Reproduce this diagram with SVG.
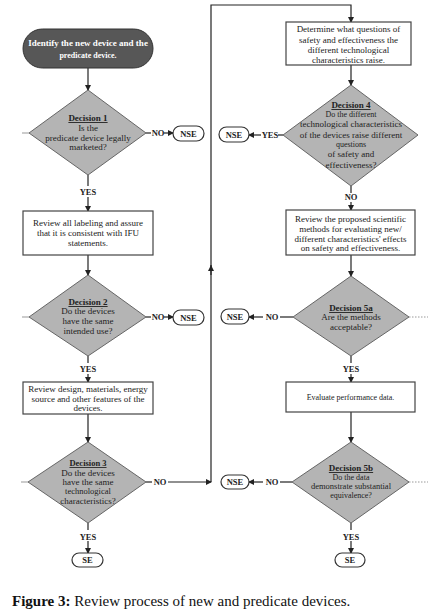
<svg xmlns="http://www.w3.org/2000/svg" width="433" height="613" viewBox="0 0 433 613">
<defs>
<marker id="ah" markerWidth="6" markerHeight="6" refX="5" refY="3" orient="auto" markerUnits="userSpaceOnUse">
<path d="M0,0 L6,3 L0,6 Z" fill="#222"/>
</marker>
<style>
.t{font-family:"Liberation Serif","Times New Roman",serif;font-size:9px;fill:#222;text-anchor:middle}
.b{font-weight:bold}
.u{text-decoration:underline;font-weight:bold}
.box{fill:#fff;stroke:#444;stroke-width:1.2}
.dia{fill:#b4b4b4;stroke:#666;stroke-width:1}
.pill{fill:#fff;stroke:#333;stroke-width:1.2}
.ln{stroke:#222;stroke-width:1.2;fill:none}
.stub{stroke:#999;stroke-width:1;fill:none}
.lab{font-family:"Liberation Serif","Times New Roman",serif;font-size:8.5px;font-weight:bold;fill:#222;text-anchor:middle}
</style>
</defs>
<rect width="433" height="613" fill="#fff"/>

<g id="connectors">
<line class="ln" x1="88" y1="68" x2="88" y2="90" marker-end="url(#ah)"/>
<line class="ln" x1="146" y1="133" x2="151" y2="133"/>
<line class="ln" x1="164" y1="133" x2="173" y2="133" marker-end="url(#ah)"/>
<line class="stub" x1="22" y1="133" x2="29" y2="133"/>
<line class="ln" x1="88" y1="175" x2="88" y2="186"/>
<line class="ln" x1="88" y1="197" x2="88" y2="211" marker-end="url(#ah)"/>
<line class="ln" x1="88" y1="255" x2="88" y2="275" marker-end="url(#ah)"/>
<line class="ln" x1="146" y1="317" x2="151" y2="317"/>
<line class="ln" x1="164" y1="317" x2="173" y2="317" marker-end="url(#ah)"/>
<line class="stub" x1="22" y1="317" x2="29" y2="317"/>
<line class="ln" x1="88" y1="356" x2="88" y2="363"/>
<line class="ln" x1="88" y1="374" x2="88" y2="382" marker-end="url(#ah)"/>
<line class="ln" x1="88" y1="414" x2="88" y2="442" marker-end="url(#ah)"/>
<line class="stub" x1="21" y1="482" x2="28" y2="482"/>
<line class="ln" x1="146" y1="482" x2="152" y2="482"/>
<line class="ln" x1="168" y1="482" x2="211" y2="482" marker-end="url(#ah)"/>
<line class="ln" x1="211" y1="482" x2="211" y2="265"/>
<line class="ln" x1="211" y1="275" x2="211" y2="266" marker-end="url(#ah)"/>
<polyline class="ln" points="211,266 211,5 351,5 351,22" marker-end="url(#ah)"/>
<line class="ln" x1="88" y1="523" x2="88" y2="530"/>
<line class="ln" x1="88" y1="541" x2="88" y2="553" marker-end="url(#ah)"/>

<line class="ln" x1="351" y1="65" x2="351" y2="85" marker-end="url(#ah)"/>
<line class="ln" x1="283" y1="135" x2="278" y2="135"/>
<line class="ln" x1="261" y1="135" x2="249" y2="135" marker-end="url(#ah)"/>
<line class="ln" x1="351" y1="186" x2="351" y2="193"/>
<line class="ln" x1="351" y1="202" x2="351" y2="210" marker-end="url(#ah)"/>
<line class="ln" x1="351" y1="255" x2="351" y2="276" marker-end="url(#ah)"/>
<line class="ln" x1="293" y1="317" x2="280" y2="317"/>
<line class="ln" x1="263" y1="317" x2="249" y2="317" marker-end="url(#ah)"/>
<line class="stub" x1="409" y1="317" x2="428" y2="317" stroke-dasharray="1.5,1.5"/>
<line class="ln" x1="351" y1="356" x2="351" y2="363"/>
<line class="ln" x1="351" y1="374" x2="351" y2="382" marker-end="url(#ah)"/>
<line class="ln" x1="351" y1="412" x2="351" y2="442" marker-end="url(#ah)"/>
<line class="ln" x1="292" y1="482" x2="280" y2="482"/>
<line class="ln" x1="263" y1="482" x2="249" y2="482" marker-end="url(#ah)"/>
<line class="stub" x1="409" y1="482" x2="428" y2="482" stroke-dasharray="1.5,1.5"/>
<line class="ln" x1="351" y1="523" x2="351" y2="530"/>
<line class="ln" x1="351" y1="541" x2="351" y2="553" marker-end="url(#ah)"/>

<text class="lab" x="158" y="136">NO</text>
<text class="lab" x="88" y="195">YES</text>
<text class="lab" x="158" y="320">NO</text>
<text class="lab" x="88" y="372">YES</text>
<text class="lab" x="160" y="485">NO</text>
<text class="lab" x="88" y="540">YES</text>
<text class="lab" x="270" y="138">YES</text>
<text class="lab" x="351" y="200">NO</text>
<text class="lab" x="272" y="320">NO</text>
<text class="lab" x="351" y="372">YES</text>
<text class="lab" x="272" y="485">NO</text>
<text class="lab" x="351" y="540">YES</text>
</g>

<g id="start">
<rect x="23" y="29" width="130" height="39" rx="19.5" fill="#575757" stroke="#333"/>
<text class="t b" x="88" y="46" style="fill:#fff">Identify the new device and the</text>
<text class="t b" x="88" y="58" style="fill:#fff;font-size:8px">predicate device.</text>
</g>

<g id="decision1">
<polygon class="dia" points="88,90 146,133 88,175 29,133"/>
<text class="t u" x="88" y="121">Decision 1</text>
<text class="t" x="88" y="131">Is the</text>
<text class="t" x="88" y="141">predicate device legally</text>
<text class="t" x="88" y="150">marketed?</text>
</g>
<g id="nse1"><rect class="pill" x="173" y="126" width="31" height="15" rx="7.5"/><text class="lab" x="188.5" y="136.5">NSE</text></g>

<g id="review-labeling">
<rect class="box" x="23" y="211" width="130" height="44"/>
<text class="t" x="88" y="226">Review all labeling and assure</text>
<text class="t" x="88" y="236">that it is consistent with IFU</text>
<text class="t" x="88" y="246">statements.</text>
</g>

<g id="decision2">
<polygon class="dia" points="88,275 146,317 88,356 29,317"/>
<text class="t u" x="88" y="305">Decision 2</text>
<text class="t" x="88" y="314">Do the devices</text>
<text class="t" x="88" y="324">have the same</text>
<text class="t" x="88" y="334">intended use?</text>
</g>
<g id="nse2"><rect class="pill" x="173" y="310" width="31" height="15" rx="7.5"/><text class="lab" x="188.5" y="320.5">NSE</text></g>

<g id="review-design">
<rect class="box" x="23" y="382" width="130" height="32"/>
<text class="t" x="88" y="392">Review design, materials, energy</text>
<text class="t" x="88" y="402">source and other features of the</text>
<text class="t" x="88" y="411">devices.</text>
</g>

<g id="decision3">
<polygon class="dia" points="88,442 146,482 88,523 28,482"/>
<text class="t u" x="88" y="466" style="font-size:8.5px">Decision 3</text>
<text class="t" x="88" y="476">Do the devices</text>
<text class="t" x="88" y="485">have the same</text>
<text class="t" x="88" y="494" style="font-size:8.5px">technological</text>
<text class="t" x="88" y="504">characteristics?</text>
</g>
<g id="se1"><rect class="pill" x="72" y="553" width="31" height="14" rx="7"/><text class="lab" x="87.5" y="563">SE</text></g>

<g id="determine">
<rect class="box" x="286" y="22" width="125" height="43"/>
<text class="t" x="348.5" y="32">Determine what questions of</text>
<text class="t" x="348.5" y="43">safety and effectiveness the</text>
<text class="t" x="348.5" y="53">different technological</text>
<text class="t" x="348.5" y="63">characteristics raise.</text>
</g>

<g id="decision4">
<polygon class="dia" points="351,85 418,135 351,186 283,135"/>
<text class="t u" x="351" y="108">Decision 4</text>
<text class="t" x="351" y="117" style="font-size:8px">Do the different</text>
<text class="t" x="351" y="127">technological characteristics</text>
<text class="t" x="351" y="138">of the devices raise different</text>
<text class="t" x="351" y="147" style="font-size:8px">questions</text>
<text class="t" x="351" y="157">of safety and</text>
<text class="t" x="351" y="168">effectiveness?</text>
</g>
<g id="nse4"><rect class="pill" x="219" y="127" width="30" height="15" rx="7.5"/><text class="lab" x="234" y="137.5">NSE</text></g>

<g id="review-methods">
<rect class="box" x="286" y="210" width="129" height="45"/>
<text class="t" x="350.5" y="222">Review the proposed scientific</text>
<text class="t" x="350.5" y="232">methods for evaluating new/</text>
<text class="t" x="350.5" y="242">different characteristics' effects</text>
<text class="t" x="350.5" y="251">on safety and effectiveness.</text>
</g>

<g id="decision5a">
<polygon class="dia" points="351,276 409,317 351,356 293,317"/>
<text class="t u" x="351" y="311">Decision 5a</text>
<text class="t" x="351" y="320">Are the methods</text>
<text class="t" x="351" y="330">acceptable?</text>
</g>
<g id="nse5a"><rect class="pill" x="221" y="309" width="28" height="15" rx="7.5"/><text class="lab" x="235" y="319.5">NSE</text></g>

<g id="evaluate">
<rect class="box" x="286" y="382" width="129" height="30"/>
<text class="t" x="350.5" y="400" style="font-size:8px">Evaluate performance data.</text>
</g>

<g id="decision5b">
<polygon class="dia" points="351,442 409,482 351,523 292,482"/>
<text class="t u" x="351" y="471">Decision 5b</text>
<text class="t" x="351" y="480" style="font-size:8px">Do the data</text>
<text class="t" x="351" y="489" style="font-size:8.5px">demonstrate substantial</text>
<text class="t" x="351" y="498" style="font-size:8px">equivalence?</text>
</g>
<g id="nse5b"><rect class="pill" x="221" y="475" width="28" height="14" rx="7"/><text class="lab" x="235" y="485">NSE</text></g>
<g id="se2"><rect class="pill" x="335" y="553" width="30" height="14" rx="7"/><text class="lab" x="350" y="563">SE</text></g>

<text x="12" y="606" style="font-family:'Liberation Serif','Times New Roman',serif;font-size:15px;fill:#111"><tspan font-weight="bold">Figure 3:</tspan> Review process of new and predicate devices.</text>
</svg>
